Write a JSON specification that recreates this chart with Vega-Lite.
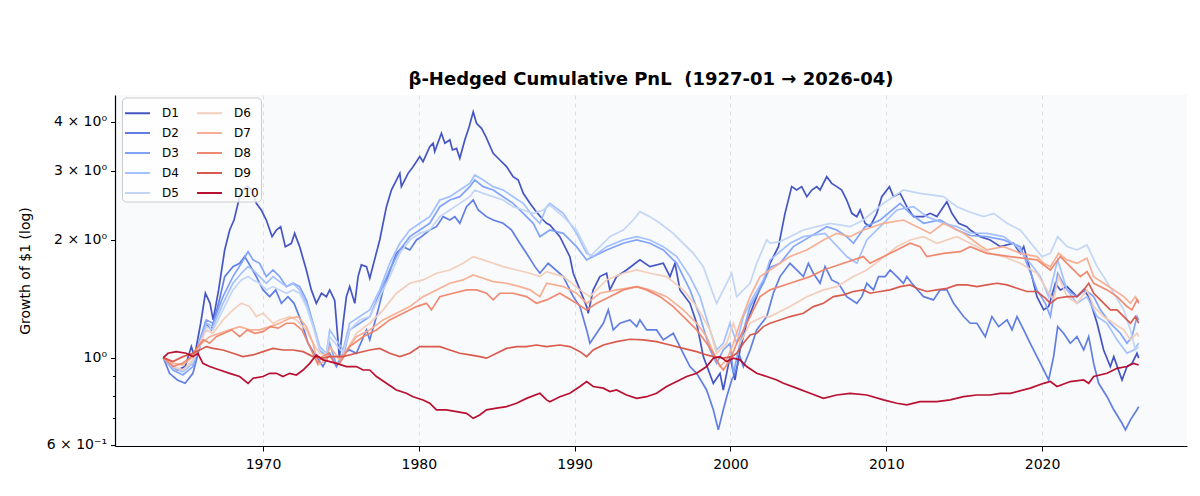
{
"$schema":"https://vega.github.io/schema/vega-lite/v6.json",
"autosize":{"type":"none"},
"width":1072,"height":351,
"padding":{"left":115,"top":95,"right":13,"bottom":50},
"background":"white",
"config":{"view":{"fill":"#f9fafc","stroke":null},"font":"DejaVu Sans"},
"title":{"text":"β-Hedged Cumulative PnL \u00a0(1927-01 → 2026-04)","fontSize":18,"fontWeight":"bold","font":"DejaVu Sans","color":"#000","anchor":"middle","offset":6},
"datasets":{"pts":[
{"s":"D1","x":1963.6,"y":1},{"s":"D1","x":1964.0,"y":0.967},{"s":"D1","x":1964.5,"y":0.93},{"s":"D1","x":1965.0,"y":0.949},{"s":"D1","x":1965.4,"y":1.067},{"s":"D1","x":1965.6,"y":1.006},{"s":"D1","x":1966.0,"y":1.224},{"s":"D1","x":1966.3,"y":1.46},{"s":"D1","x":1966.6,"y":1.376},{"s":"D1","x":1966.8,"y":1.248},{"s":"D1","x":1967.15,"y":1.489},{"s":"D1","x":1967.54,"y":1.883},{"s":"D1","x":1967.86,"y":2.117},{"s":"D1","x":1968.14,"y":2.245},{"s":"D1","x":1968.5,"y":2.575},{"s":"D1","x":1968.71,"y":2.678},{"s":"D1","x":1968.99,"y":2.731},{"s":"D1","x":1969.31,"y":2.678},{"s":"D1","x":1969.57,"y":2.476},{"s":"D1","x":1969.89,"y":2.381},{"s":"D1","x":1970.21,"y":2.245},{"s":"D1","x":1970.58,"y":2.036},{"s":"D1","x":1970.86,"y":2.117},{"s":"D1","x":1971.13,"y":2.159},{"s":"D1","x":1971.43,"y":1.92},{"s":"D1","x":1971.82,"y":1.958},{"s":"D1","x":1972.03,"y":2.076},{"s":"D1","x":1972.35,"y":1.92},{"s":"D1","x":1972.78,"y":1.674},{"s":"D1","x":1973.1,"y":1.489},{"s":"D1","x":1973.42,"y":1.376},{"s":"D1","x":1973.75,"y":1.46},{"s":"D1","x":1974.07,"y":1.431},{"s":"D1","x":1974.28,"y":1.489},{"s":"D1","x":1974.6,"y":1.4},{"s":"D1","x":1974.9,"y":1.0},{"s":"D1","x":1975.14,"y":1.224},{"s":"D1","x":1975.35,"y":1.431},{"s":"D1","x":1975.56,"y":1.518},{"s":"D1","x":1975.89,"y":1.376},{"s":"D1","x":1976.1,"y":1.61},{"s":"D1","x":1976.31,"y":1.724},{"s":"D1","x":1976.64,"y":1.707},{"s":"D1","x":1976.85,"y":1.595},{"s":"D1","x":1977.49,"y":1.997},{"s":"D1","x":1977.92,"y":2.428},{"s":"D1","x":1978.24,"y":2.678},{"s":"D1","x":1978.56,"y":2.84},{"s":"D1","x":1978.78,"y":2.953},{"s":"D1","x":1978.88,"y":2.731},{"s":"D1","x":1979.31,"y":2.953},{"s":"D1","x":1979.63,"y":3.072},{"s":"D1","x":1980.06,"y":3.258},{"s":"D1","x":1980.27,"y":3.163},{"s":"D1","x":1980.7,"y":3.455},{"s":"D1","x":1980.92,"y":3.524},{"s":"D1","x":1981.02,"y":3.355},{"s":"D1","x":1981.45,"y":3.737},{"s":"D1","x":1981.67,"y":3.524},{"s":"D1","x":1981.99,"y":3.593},{"s":"D1","x":1982.16,"y":3.388},{"s":"D1","x":1982.42,"y":3.42},{"s":"D1","x":1982.63,"y":3.226},{"s":"D1","x":1982.95,"y":3.593},{"s":"D1","x":1983.23,"y":3.886},{"s":"D1","x":1983.49,"y":4.24},{"s":"D1","x":1983.7,"y":3.963},{"s":"D1","x":1984.02,"y":3.848},{"s":"D1","x":1984.3,"y":3.665},{"s":"D1","x":1984.77,"y":3.322},{"s":"D1","x":1985.2,"y":3.194},{"s":"D1","x":1985.63,"y":3.072},{"s":"D1","x":1986.05,"y":2.896},{"s":"D1","x":1986.38,"y":2.84},{"s":"D1","x":1986.7,"y":2.626},{"s":"D1","x":1987.13,"y":2.476},{"s":"D1","x":1987.45,"y":2.381},{"s":"D1","x":1987.98,"y":2.245},{"s":"D1","x":1988.2,"y":2.202},{"s":"D1","x":1988.41,"y":2.18},{"s":"D1","x":1989.05,"y":2.036},{"s":"D1","x":1989.69,"y":1.811},{"s":"D1","x":1989.91,"y":1.642},{"s":"D1","x":1990.34,"y":1.489},{"s":"D1","x":1990.77,"y":1.35},{"s":"D1","x":1990.87,"y":1.298},{"s":"D1","x":1991.19,"y":1.489},{"s":"D1","x":1991.62,"y":1.61},{"s":"D1","x":1992.05,"y":1.642},{"s":"D1","x":1992.26,"y":1.489},{"s":"D1","x":1992.69,"y":1.61},{"s":"D1","x":1993.33,"y":1.674},{"s":"D1","x":1994.19,"y":1.776},{"s":"D1","x":1994.83,"y":1.707},{"s":"D1","x":1995.69,"y":1.741},{"s":"D1","x":1996.12,"y":1.61},{"s":"D1","x":1996.44,"y":1.741},{"s":"D1","x":1996.76,"y":1.489},{"s":"D1","x":1997.4,"y":1.376},{"s":"D1","x":1997.83,"y":1.224},{"s":"D1","x":1998.26,"y":1.006},{"s":"D1","x":1998.9,"y":0.86},{"s":"D1","x":1999.33,"y":0.912},{"s":"D1","x":1999.54,"y":0.827},{"s":"D1","x":1999.97,"y":1.006},{"s":"D1","x":2000.29,"y":0.877},{"s":"D1","x":2000.61,"y":1.046},{"s":"D1","x":2001.04,"y":1.224},{"s":"D1","x":2001.68,"y":1.431},{"s":"D1","x":2002.33,"y":1.642},{"s":"D1","x":2002.54,"y":1.741},{"s":"D1","x":2003.08,"y":1.92},{"s":"D1","x":2003.5,"y":2.335},{"s":"D1","x":2003.93,"y":2.731},{"s":"D1","x":2004.25,"y":2.678},{"s":"D1","x":2004.57,"y":2.731},{"s":"D1","x":2004.9,"y":2.575},{"s":"D1","x":2005.22,"y":2.678},{"s":"D1","x":2005.54,"y":2.731},{"s":"D1","x":2005.75,"y":2.678},{"s":"D1","x":2006.18,"y":2.896},{"s":"D1","x":2006.5,"y":2.785},{"s":"D1","x":2006.82,"y":2.731},{"s":"D1","x":2007.14,"y":2.678},{"s":"D1","x":2007.46,"y":2.525},{"s":"D1","x":2007.79,"y":2.335},{"s":"D1","x":2008.11,"y":2.29},{"s":"D1","x":2008.32,"y":2.381},{"s":"D1","x":2008.64,"y":2.202},{"s":"D1","x":2008.96,"y":2.159},{"s":"D1","x":2009.39,"y":2.335},{"s":"D1","x":2009.71,"y":2.575},{"s":"D1","x":2010.2,"y":2.731},{"s":"D1","x":2010.46,"y":2.575},{"s":"D1","x":2010.89,"y":2.626},{"s":"D1","x":2011.32,"y":2.428},{"s":"D1","x":2011.75,"y":2.29},{"s":"D1","x":2012.39,"y":2.29},{"s":"D1","x":2012.82,"y":2.335},{"s":"D1","x":2013.25,"y":2.29},{"s":"D1","x":2013.67,"y":2.428},{"s":"D1","x":2013.89,"y":2.5},{"s":"D1","x":2014.21,"y":2.335},{"s":"D1","x":2014.64,"y":2.202},{"s":"D1","x":2015.17,"y":2.159},{"s":"D1","x":2015.39,"y":2.117},{"s":"D1","x":2016.03,"y":2.036},{"s":"D1","x":2016.67,"y":1.997},{"s":"D1","x":2017.32,"y":1.92},{"s":"D1","x":2018.17,"y":1.958},{"s":"D1","x":2018.6,"y":1.846},{"s":"D1","x":2018.82,"y":1.92},{"s":"D1","x":2019.35,"y":1.61},{"s":"D1","x":2019.67,"y":1.431},{"s":"D1","x":2020.1,"y":1.324},{"s":"D1","x":2020.42,"y":1.35},{"s":"D1","x":2020.85,"y":1.548},{"s":"D1","x":2021.17,"y":1.489},{"s":"D1","x":2021.6,"y":1.518},{"s":"D1","x":2022.24,"y":1.431},{"s":"D1","x":2022.67,"y":1.489},{"s":"D1","x":2023.0,"y":1.431},{"s":"D1","x":2023.53,"y":1.224},{"s":"D1","x":2023.95,"y":1.046},{"s":"D1","x":2024.38,"y":0.949},{"s":"D1","x":2024.6,"y":1.006},{"s":"D1","x":2025.13,"y":0.877},{"s":"D1","x":2025.45,"y":0.949},{"s":"D1","x":2025.77,"y":0.967},{"s":"D1","x":2026.09,"y":1.026},{"s":"D1","x":2026.2,"y":0.997},
{"s":"D2","x":1963.6,"y":1},{"s":"D2","x":1964.0,"y":0.912},{"s":"D2","x":1964.5,"y":0.877},{"s":"D2","x":1965.0,"y":0.86},{"s":"D2","x":1965.5,"y":0.912},{"s":"D2","x":1966.0,"y":1.088},{"s":"D2","x":1966.29,"y":1.224},{"s":"D2","x":1966.68,"y":1.177},{"s":"D2","x":1967.15,"y":1.376},{"s":"D2","x":1967.54,"y":1.61},{"s":"D2","x":1968.07,"y":1.707},{"s":"D2","x":1968.5,"y":1.741},{"s":"D2","x":1968.82,"y":1.811},{"s":"D2","x":1969.21,"y":1.707},{"s":"D2","x":1969.57,"y":1.61},{"s":"D2","x":1970.0,"y":1.489},{"s":"D2","x":1970.43,"y":1.431},{"s":"D2","x":1970.81,"y":1.489},{"s":"D2","x":1971.18,"y":1.376},{"s":"D2","x":1971.6,"y":1.431},{"s":"D2","x":1971.99,"y":1.376},{"s":"D2","x":1972.5,"y":1.224},{"s":"D2","x":1972.89,"y":1.088},{"s":"D2","x":1973.42,"y":1.006},{"s":"D2","x":1973.85,"y":0.949},{"s":"D2","x":1974.28,"y":1.026},{"s":"D2","x":1974.71,"y":0.949},{"s":"D2","x":1975.14,"y":1.026},{"s":"D2","x":1975.56,"y":1.046},{"s":"D2","x":1975.99,"y":1.026},{"s":"D2","x":1976.64,"y":1.177},{"s":"D2","x":1976.85,"y":1.11},{"s":"D2","x":1977.28,"y":1.273},{"s":"D2","x":1977.71,"y":1.489},{"s":"D2","x":1978.24,"y":1.707},{"s":"D2","x":1978.56,"y":1.846},{"s":"D2","x":1978.99,"y":1.92},{"s":"D2","x":1979.42,"y":1.883},{"s":"D2","x":1979.85,"y":1.997},{"s":"D2","x":1980.17,"y":2.036},{"s":"D2","x":1980.7,"y":2.117},{"s":"D2","x":1981.13,"y":2.159},{"s":"D2","x":1981.56,"y":2.29},{"s":"D2","x":1981.99,"y":2.245},{"s":"D2","x":1982.31,"y":2.29},{"s":"D2","x":1982.63,"y":2.202},{"s":"D2","x":1983.06,"y":2.428},{"s":"D2","x":1983.49,"y":2.525},{"s":"D2","x":1983.81,"y":2.381},{"s":"D2","x":1984.34,"y":2.29},{"s":"D2","x":1984.77,"y":2.245},{"s":"D2","x":1985.41,"y":2.202},{"s":"D2","x":1985.95,"y":2.117},{"s":"D2","x":1986.48,"y":1.958},{"s":"D2","x":1986.91,"y":1.846},{"s":"D2","x":1987.45,"y":1.707},{"s":"D2","x":1987.77,"y":1.642},{"s":"D2","x":1988.3,"y":1.741},{"s":"D2","x":1989.27,"y":1.61},{"s":"D2","x":1989.91,"y":1.431},{"s":"D2","x":1990.34,"y":1.35},{"s":"D2","x":1990.77,"y":1.177},{"s":"D2","x":1990.98,"y":1.088},{"s":"D2","x":1991.41,"y":1.154},{"s":"D2","x":1991.84,"y":1.224},{"s":"D2","x":1992.16,"y":1.324},{"s":"D2","x":1992.48,"y":1.177},{"s":"D2","x":1992.91,"y":1.224},{"s":"D2","x":1993.55,"y":1.248},{"s":"D2","x":1993.98,"y":1.2},{"s":"D2","x":1994.19,"y":1.248},{"s":"D2","x":1994.62,"y":1.177},{"s":"D2","x":1995.26,"y":1.177},{"s":"D2","x":1995.69,"y":1.11},{"s":"D2","x":1996.33,"y":1.154},{"s":"D2","x":1996.97,"y":1.026},{"s":"D2","x":1997.4,"y":0.949},{"s":"D2","x":1997.83,"y":0.912},{"s":"D2","x":1998.47,"y":0.827},{"s":"D2","x":1998.9,"y":0.736},{"s":"D2","x":1999.22,"y":0.654},{"s":"D2","x":1999.54,"y":0.736},{"s":"D2","x":1999.76,"y":0.795},{"s":"D2","x":2000.08,"y":0.877},{"s":"D2","x":2000.29,"y":0.912},{"s":"D2","x":2000.61,"y":1.006},{"s":"D2","x":2000.83,"y":0.949},{"s":"D2","x":2001.26,"y":1.046},{"s":"D2","x":2001.68,"y":1.177},{"s":"D2","x":2002.33,"y":1.273},{"s":"D2","x":2002.75,"y":1.46},{"s":"D2","x":2003.18,"y":1.61},{"s":"D2","x":2003.82,"y":1.741},{"s":"D2","x":2004.25,"y":1.674},{"s":"D2","x":2004.68,"y":1.61},{"s":"D2","x":2005.0,"y":1.741},{"s":"D2","x":2005.32,"y":1.642},{"s":"D2","x":2005.75,"y":1.548},{"s":"D2","x":2006.07,"y":1.707},{"s":"D2","x":2006.5,"y":1.579},{"s":"D2","x":2006.93,"y":1.548},{"s":"D2","x":2007.46,"y":1.431},{"s":"D2","x":2008.11,"y":1.376},{"s":"D2","x":2008.43,"y":1.431},{"s":"D2","x":2008.75,"y":1.548},{"s":"D2","x":2009.18,"y":1.489},{"s":"D2","x":2009.5,"y":1.61},{"s":"D2","x":2009.93,"y":1.61},{"s":"D2","x":2010.25,"y":1.674},{"s":"D2","x":2010.68,"y":1.61},{"s":"D2","x":2011.1,"y":1.548},{"s":"D2","x":2011.32,"y":1.61},{"s":"D2","x":2011.64,"y":1.548},{"s":"D2","x":2012.39,"y":1.431},{"s":"D2","x":2013.03,"y":1.404},{"s":"D2","x":2013.46,"y":1.489},{"s":"D2","x":2013.89,"y":1.489},{"s":"D2","x":2014.32,"y":1.376},{"s":"D2","x":2014.96,"y":1.273},{"s":"D2","x":2015.39,"y":1.224},{"s":"D2","x":2015.82,"y":1.224},{"s":"D2","x":2016.35,"y":1.131},{"s":"D2","x":2016.78,"y":1.273},{"s":"D2","x":2017.21,"y":1.2},{"s":"D2","x":2017.75,"y":1.248},{"s":"D2","x":2018.07,"y":1.177},{"s":"D2","x":2018.39,"y":1.273},{"s":"D2","x":2018.82,"y":1.177},{"s":"D2","x":2019.24,"y":1.088},{"s":"D2","x":2019.67,"y":1.006},{"s":"D2","x":2019.89,"y":0.967},{"s":"D2","x":2020.42,"y":0.877},{"s":"D2","x":2020.74,"y":1.006},{"s":"D2","x":2021.0,"y":1.2},{"s":"D2","x":2021.38,"y":1.154},{"s":"D2","x":2021.81,"y":1.088},{"s":"D2","x":2022.24,"y":1.131},{"s":"D2","x":2022.67,"y":1.046},{"s":"D2","x":2022.99,"y":1.131},{"s":"D2","x":2023.31,"y":0.967},{"s":"D2","x":2023.63,"y":0.86},{"s":"D2","x":2024.17,"y":0.795},{"s":"D2","x":2024.6,"y":0.736},{"s":"D2","x":2025.13,"y":0.68},{"s":"D2","x":2025.35,"y":0.654},{"s":"D2","x":2025.67,"y":0.694},{"s":"D2","x":2026.09,"y":0.736},{"s":"D2","x":2026.2,"y":0.75},
{"s":"D3","x":1963.6,"y":1},{"s":"D3","x":1964.22,"y":0.93},{"s":"D3","x":1964.86,"y":0.903},{"s":"D3","x":1965.5,"y":0.949},{"s":"D3","x":1965.93,"y":1.11},{"s":"D3","x":1966.36,"y":1.248},{"s":"D3","x":1966.79,"y":1.224},{"s":"D3","x":1967.43,"y":1.431},{"s":"D3","x":1968.07,"y":1.61},{"s":"D3","x":1968.61,"y":1.741},{"s":"D3","x":1969.04,"y":1.865},{"s":"D3","x":1969.36,"y":1.776},{"s":"D3","x":1969.78,"y":1.741},{"s":"D3","x":1970.21,"y":1.61},{"s":"D3","x":1970.64,"y":1.674},{"s":"D3","x":1971.07,"y":1.61},{"s":"D3","x":1971.5,"y":1.518},{"s":"D3","x":1971.93,"y":1.548},{"s":"D3","x":1972.35,"y":1.518},{"s":"D3","x":1972.78,"y":1.404},{"s":"D3","x":1973.21,"y":1.224},{"s":"D3","x":1973.64,"y":1.046},{"s":"D3","x":1974.07,"y":1.006},{"s":"D3","x":1974.28,"y":1.088},{"s":"D3","x":1974.7,"y":0.96},{"s":"D3","x":1975.14,"y":1.006},{"s":"D3","x":1975.56,"y":1.177},{"s":"D3","x":1976.21,"y":1.224},{"s":"D3","x":1976.85,"y":1.273},{"s":"D3","x":1977.49,"y":1.46},{"s":"D3","x":1978.13,"y":1.674},{"s":"D3","x":1978.78,"y":1.883},{"s":"D3","x":1979.42,"y":2.036},{"s":"D3","x":1980.06,"y":2.117},{"s":"D3","x":1980.7,"y":2.202},{"s":"D3","x":1981.35,"y":2.428},{"s":"D3","x":1981.99,"y":2.525},{"s":"D3","x":1982.63,"y":2.575},{"s":"D3","x":1983.27,"y":2.731},{"s":"D3","x":1983.59,"y":2.84},{"s":"D3","x":1984.13,"y":2.731},{"s":"D3","x":1984.77,"y":2.678},{"s":"D3","x":1985.41,"y":2.575},{"s":"D3","x":1986.05,"y":2.476},{"s":"D3","x":1986.7,"y":2.335},{"s":"D3","x":1987.34,"y":2.202},{"s":"D3","x":1987.77,"y":2.036},{"s":"D3","x":1988.41,"y":2.117},{"s":"D3","x":1989.27,"y":2.076},{"s":"D3","x":1990.12,"y":1.92},{"s":"D3","x":1990.77,"y":1.776},{"s":"D3","x":1991.19,"y":1.811},{"s":"D3","x":1992.05,"y":1.883},{"s":"D3","x":1993.12,"y":1.958},{"s":"D3","x":1993.98,"y":1.997},{"s":"D3","x":1994.83,"y":1.958},{"s":"D3","x":1995.69,"y":1.883},{"s":"D3","x":1996.55,"y":1.741},{"s":"D3","x":1997.4,"y":1.489},{"s":"D3","x":1998.04,"y":1.273},{"s":"D3","x":1998.69,"y":1.046},{"s":"D3","x":1999.11,"y":0.967},{"s":"D3","x":1999.54,"y":1.046},{"s":"D3","x":1999.97,"y":1.088},{"s":"D3","x":2000.19,"y":0.912},{"s":"D3","x":2000.61,"y":1.088},{"s":"D3","x":2001.26,"y":1.35},{"s":"D3","x":2002.11,"y":1.548},{"s":"D3","x":2002.54,"y":1.7},{"s":"D3","x":2003.18,"y":1.741},{"s":"D3","x":2004.04,"y":1.92},{"s":"D3","x":2005.11,"y":2.036},{"s":"D3","x":2006.18,"y":2.159},{"s":"D3","x":2006.82,"y":2.117},{"s":"D3","x":2007.46,"y":2.036},{"s":"D3","x":2007.89,"y":1.958},{"s":"D3","x":2008.64,"y":2.159},{"s":"D3","x":2009.61,"y":2.245},{"s":"D3","x":2010.89,"y":2.476},{"s":"D3","x":2011.53,"y":2.335},{"s":"D3","x":2012.39,"y":2.202},{"s":"D3","x":2013.46,"y":2.245},{"s":"D3","x":2014.53,"y":2.117},{"s":"D3","x":2015.39,"y":2.05},{"s":"D3","x":2016.46,"y":2.036},{"s":"D3","x":2017.53,"y":1.997},{"s":"D3","x":2018.6,"y":1.92},{"s":"D3","x":2019.35,"y":1.61},{"s":"D3","x":2019.67,"y":1.489},{"s":"D3","x":2020.21,"y":1.376},{"s":"D3","x":2020.53,"y":1.273},{"s":"D3","x":2021.0,"y":1.642},{"s":"D3","x":2021.6,"y":1.489},{"s":"D3","x":2022.24,"y":1.431},{"s":"D3","x":2022.78,"y":1.489},{"s":"D3","x":2023.31,"y":1.431},{"s":"D3","x":2023.74,"y":1.324},{"s":"D3","x":2024.38,"y":1.224},{"s":"D3","x":2025.02,"y":1.154},{"s":"D3","x":2025.45,"y":1.088},{"s":"D3","x":2025.77,"y":1.131},{"s":"D3","x":2026.09,"y":1.273},{"s":"D3","x":2026.2,"y":1.248},
{"s":"D4","x":1963.6,"y":1},{"s":"D4","x":1964.22,"y":0.94},{"s":"D4","x":1964.86,"y":0.92},{"s":"D4","x":1965.5,"y":0.967},{"s":"D4","x":1965.93,"y":1.088},{"s":"D4","x":1966.36,"y":1.224},{"s":"D4","x":1966.79,"y":1.2},{"s":"D4","x":1967.43,"y":1.376},{"s":"D4","x":1968.07,"y":1.548},{"s":"D4","x":1968.61,"y":1.642},{"s":"D4","x":1969.04,"y":1.707},{"s":"D4","x":1969.36,"y":1.674},{"s":"D4","x":1969.78,"y":1.61},{"s":"D4","x":1970.21,"y":1.548},{"s":"D4","x":1970.64,"y":1.61},{"s":"D4","x":1971.07,"y":1.563},{"s":"D4","x":1971.5,"y":1.518},{"s":"D4","x":1971.93,"y":1.548},{"s":"D4","x":1972.35,"y":1.489},{"s":"D4","x":1972.78,"y":1.376},{"s":"D4","x":1973.21,"y":1.224},{"s":"D4","x":1973.64,"y":1.067},{"s":"D4","x":1974.07,"y":1.026},{"s":"D4","x":1974.28,"y":1.177},{"s":"D4","x":1975.14,"y":1.046},{"s":"D4","x":1975.56,"y":1.224},{"s":"D4","x":1976.21,"y":1.273},{"s":"D4","x":1976.85,"y":1.324},{"s":"D4","x":1977.49,"y":1.489},{"s":"D4","x":1978.13,"y":1.741},{"s":"D4","x":1978.78,"y":1.958},{"s":"D4","x":1979.42,"y":2.117},{"s":"D4","x":1980.06,"y":2.202},{"s":"D4","x":1980.7,"y":2.29},{"s":"D4","x":1981.35,"y":2.525},{"s":"D4","x":1981.99,"y":2.575},{"s":"D4","x":1982.63,"y":2.678},{"s":"D4","x":1983.27,"y":2.785},{"s":"D4","x":1983.59,"y":2.925},{"s":"D4","x":1984.13,"y":2.84},{"s":"D4","x":1984.77,"y":2.731},{"s":"D4","x":1985.41,"y":2.678},{"s":"D4","x":1986.05,"y":2.575},{"s":"D4","x":1986.7,"y":2.476},{"s":"D4","x":1987.34,"y":2.29},{"s":"D4","x":1987.77,"y":2.2},{"s":"D4","x":1988.2,"y":2.428},{"s":"D4","x":1988.41,"y":2.476},{"s":"D4","x":1989.27,"y":2.335},{"s":"D4","x":1990.12,"y":2.076},{"s":"D4","x":1990.77,"y":1.846},{"s":"D4","x":1991.19,"y":1.811},{"s":"D4","x":1992.05,"y":1.92},{"s":"D4","x":1993.12,"y":1.997},{"s":"D4","x":1993.98,"y":2.036},{"s":"D4","x":1994.83,"y":1.997},{"s":"D4","x":1995.69,"y":1.92},{"s":"D4","x":1996.55,"y":1.811},{"s":"D4","x":1997.4,"y":1.61},{"s":"D4","x":1998.04,"y":1.431},{"s":"D4","x":1998.69,"y":1.177},{"s":"D4","x":1999.11,"y":1.046},{"s":"D4","x":1999.54,"y":1.088},{"s":"D4","x":1999.97,"y":1.224},{"s":"D4","x":2000.4,"y":1.088},{"s":"D4","x":2000.83,"y":1.273},{"s":"D4","x":2001.47,"y":1.431},{"s":"D4","x":2002.11,"y":1.579},{"s":"D4","x":2002.54,"y":1.776},{"s":"D4","x":2003.82,"y":1.958},{"s":"D4","x":2004.68,"y":2.036},{"s":"D4","x":2006.07,"y":2.076},{"s":"D4","x":2007.46,"y":1.811},{"s":"D4","x":2008.11,"y":1.741},{"s":"D4","x":2008.75,"y":1.997},{"s":"D4","x":2009.82,"y":2.202},{"s":"D4","x":2010.68,"y":2.381},{"s":"D4","x":2011.75,"y":2.428},{"s":"D4","x":2012.6,"y":2.29},{"s":"D4","x":2013.67,"y":2.202},{"s":"D4","x":2014.53,"y":2.159},{"s":"D4","x":2015.39,"y":2.08},{"s":"D4","x":2016.46,"y":2.076},{"s":"D4","x":2017.53,"y":2.036},{"s":"D4","x":2018.39,"y":1.92},{"s":"D4","x":2019.24,"y":1.741},{"s":"D4","x":2019.89,"y":1.61},{"s":"D4","x":2020.42,"y":1.431},{"s":"D4","x":2021.0,"y":1.776},{"s":"D4","x":2021.6,"y":1.489},{"s":"D4","x":2022.24,"y":1.376},{"s":"D4","x":2022.88,"y":1.431},{"s":"D4","x":2023.53,"y":1.273},{"s":"D4","x":2024.17,"y":1.224},{"s":"D4","x":2024.81,"y":1.11},{"s":"D4","x":2025.45,"y":1.026},{"s":"D4","x":2025.88,"y":1.046},{"s":"D4","x":2026.2,"y":1.088},
{"s":"D5","x":1963.6,"y":1},{"s":"D5","x":1964.22,"y":0.949},{"s":"D5","x":1964.86,"y":0.93},{"s":"D5","x":1965.5,"y":0.977},{"s":"D5","x":1965.93,"y":1.067},{"s":"D5","x":1966.36,"y":1.2},{"s":"D5","x":1966.79,"y":1.177},{"s":"D5","x":1967.43,"y":1.324},{"s":"D5","x":1968.07,"y":1.489},{"s":"D5","x":1968.61,"y":1.579},{"s":"D5","x":1969.04,"y":1.61},{"s":"D5","x":1969.36,"y":1.579},{"s":"D5","x":1969.78,"y":1.548},{"s":"D5","x":1970.21,"y":1.489},{"s":"D5","x":1970.64,"y":1.518},{"s":"D5","x":1971.07,"y":1.489},{"s":"D5","x":1971.5,"y":1.46},{"s":"D5","x":1971.93,"y":1.489},{"s":"D5","x":1972.35,"y":1.46},{"s":"D5","x":1972.78,"y":1.35},{"s":"D5","x":1973.21,"y":1.2},{"s":"D5","x":1973.64,"y":1.046},{"s":"D5","x":1974.07,"y":1.026},{"s":"D5","x":1974.28,"y":1.131},{"s":"D5","x":1975.14,"y":1.026},{"s":"D5","x":1975.56,"y":1.177},{"s":"D5","x":1976.21,"y":1.248},{"s":"D5","x":1976.85,"y":1.273},{"s":"D5","x":1977.49,"y":1.431},{"s":"D5","x":1978.13,"y":1.61},{"s":"D5","x":1978.78,"y":1.846},{"s":"D5","x":1979.42,"y":1.997},{"s":"D5","x":1980.06,"y":2.076},{"s":"D5","x":1980.7,"y":2.117},{"s":"D5","x":1981.35,"y":2.29},{"s":"D5","x":1981.99,"y":2.381},{"s":"D5","x":1982.63,"y":2.476},{"s":"D5","x":1983.27,"y":2.575},{"s":"D5","x":1983.59,"y":2.678},{"s":"D5","x":1984.13,"y":2.626},{"s":"D5","x":1984.77,"y":2.575},{"s":"D5","x":1985.41,"y":2.525},{"s":"D5","x":1986.05,"y":2.428},{"s":"D5","x":1986.7,"y":2.381},{"s":"D5","x":1987.34,"y":2.335},{"s":"D5","x":1987.98,"y":2.381},{"s":"D5","x":1988.41,"y":2.45},{"s":"D5","x":1989.27,"y":2.29},{"s":"D5","x":1990.12,"y":2.117},{"s":"D5","x":1990.77,"y":1.883},{"s":"D5","x":1990.98,"y":1.811},{"s":"D5","x":1991.62,"y":1.92},{"s":"D5","x":1992.26,"y":2.036},{"s":"D5","x":1993.12,"y":2.117},{"s":"D5","x":1993.76,"y":2.245},{"s":"D5","x":1994.19,"y":2.358},{"s":"D5","x":1994.83,"y":2.29},{"s":"D5","x":1995.48,"y":2.202},{"s":"D5","x":1996.33,"y":2.076},{"s":"D5","x":1996.97,"y":1.958},{"s":"D5","x":1997.62,"y":1.846},{"s":"D5","x":1998.26,"y":1.707},{"s":"D5","x":1998.79,"y":1.489},{"s":"D5","x":1999.11,"y":1.376},{"s":"D5","x":1999.54,"y":1.489},{"s":"D5","x":2000.08,"y":1.642},{"s":"D5","x":2000.4,"y":1.431},{"s":"D5","x":2001.26,"y":1.548},{"s":"D5","x":2001.68,"y":1.741},{"s":"D5","x":2002.33,"y":1.997},{"s":"D5","x":2002.54,"y":1.96},{"s":"D5","x":2003.18,"y":1.978},{"s":"D5","x":2003.82,"y":2.036},{"s":"D5","x":2004.68,"y":2.117},{"s":"D5","x":2006.39,"y":2.202},{"s":"D5","x":2007.68,"y":2.159},{"s":"D5","x":2008.53,"y":2.245},{"s":"D5","x":2009.82,"y":2.476},{"s":"D5","x":2011.1,"y":2.678},{"s":"D5","x":2012.17,"y":2.626},{"s":"D5","x":2013.67,"y":2.575},{"s":"D5","x":2014.53,"y":2.428},{"s":"D5","x":2015.39,"y":2.35},{"s":"D5","x":2016.25,"y":2.29},{"s":"D5","x":2016.89,"y":2.335},{"s":"D5","x":2017.75,"y":2.202},{"s":"D5","x":2018.6,"y":2.117},{"s":"D5","x":2019.46,"y":1.92},{"s":"D5","x":2020.0,"y":1.811},{"s":"D5","x":2020.53,"y":1.846},{"s":"D5","x":2021.0,"y":2.036},{"s":"D5","x":2021.6,"y":1.92},{"s":"D5","x":2022.24,"y":1.883},{"s":"D5","x":2022.88,"y":1.939},{"s":"D5","x":2023.53,"y":1.707},{"s":"D5","x":2023.95,"y":1.61},{"s":"D5","x":2024.6,"y":1.46},{"s":"D5","x":2025.24,"y":1.324},{"s":"D5","x":2025.67,"y":1.177},{"s":"D5","x":2025.99,"y":1.046},{"s":"D5","x":2026.2,"y":1.067},
{"s":"D6","x":1963.6,"y":1},{"s":"D6","x":1964.22,"y":0.949},{"s":"D6","x":1964.86,"y":0.93},{"s":"D6","x":1965.5,"y":0.987},{"s":"D6","x":1965.93,"y":1.088},{"s":"D6","x":1966.36,"y":1.177},{"s":"D6","x":1966.79,"y":1.154},{"s":"D6","x":1967.43,"y":1.248},{"s":"D6","x":1968.07,"y":1.324},{"s":"D6","x":1968.61,"y":1.376},{"s":"D6","x":1969.14,"y":1.35},{"s":"D6","x":1969.57,"y":1.273},{"s":"D6","x":1970.0,"y":1.298},{"s":"D6","x":1970.64,"y":1.224},{"s":"D6","x":1971.07,"y":1.248},{"s":"D6","x":1971.71,"y":1.273},{"s":"D6","x":1972.14,"y":1.248},{"s":"D6","x":1972.78,"y":1.177},{"s":"D6","x":1973.21,"y":1.088},{"s":"D6","x":1973.64,"y":1.026},{"s":"D6","x":1974.28,"y":1.006},{"s":"D6","x":1975.14,"y":1.006},{"s":"D6","x":1975.99,"y":1.154},{"s":"D6","x":1976.85,"y":1.224},{"s":"D6","x":1977.71,"y":1.324},{"s":"D6","x":1978.56,"y":1.46},{"s":"D6","x":1979.42,"y":1.548},{"s":"D6","x":1980.27,"y":1.579},{"s":"D6","x":1981.13,"y":1.642},{"s":"D6","x":1981.99,"y":1.674},{"s":"D6","x":1982.84,"y":1.741},{"s":"D6","x":1983.49,"y":1.811},{"s":"D6","x":1984.13,"y":1.776},{"s":"D6","x":1984.77,"y":1.741},{"s":"D6","x":1985.41,"y":1.707},{"s":"D6","x":1986.27,"y":1.674},{"s":"D6","x":1987.13,"y":1.642},{"s":"D6","x":1987.77,"y":1.61},{"s":"D6","x":1988.2,"y":1.658},{"s":"D6","x":1989.27,"y":1.61},{"s":"D6","x":1990.34,"y":1.489},{"s":"D6","x":1990.98,"y":1.431},{"s":"D6","x":1992.05,"y":1.579},{"s":"D6","x":1993.12,"y":1.642},{"s":"D6","x":1993.98,"y":1.674},{"s":"D6","x":1994.83,"y":1.642},{"s":"D6","x":1995.9,"y":1.61},{"s":"D6","x":1996.97,"y":1.489},{"s":"D6","x":1997.83,"y":1.35},{"s":"D6","x":1998.69,"y":1.177},{"s":"D6","x":1999.11,"y":1.026},{"s":"D6","x":1999.76,"y":1.088},{"s":"D6","x":2000.19,"y":1.224},{"s":"D6","x":2000.61,"y":1.088},{"s":"D6","x":2001.26,"y":1.224},{"s":"D6","x":2002.11,"y":1.273},{"s":"D6","x":2002.54,"y":1.273},{"s":"D6","x":2003.82,"y":1.35},{"s":"D6","x":2004.9,"y":1.431},{"s":"D6","x":2005.97,"y":1.489},{"s":"D6","x":2006.82,"y":1.518},{"s":"D6","x":2007.89,"y":1.61},{"s":"D6","x":2008.75,"y":1.674},{"s":"D6","x":2009.61,"y":1.776},{"s":"D6","x":2010.68,"y":1.92},{"s":"D6","x":2011.53,"y":1.997},{"s":"D6","x":2012.39,"y":2.036},{"s":"D6","x":2013.25,"y":1.958},{"s":"D6","x":2014.53,"y":2.036},{"s":"D6","x":2015.39,"y":1.958},{"s":"D6","x":2016.67,"y":1.846},{"s":"D6","x":2017.53,"y":1.811},{"s":"D6","x":2018.6,"y":1.741},{"s":"D6","x":2019.67,"y":1.642},{"s":"D6","x":2020.31,"y":1.489},{"s":"D6","x":2020.74,"y":1.404},{"s":"D6","x":2021.06,"y":1.61},{"s":"D6","x":2021.6,"y":1.431},{"s":"D6","x":2022.24,"y":1.376},{"s":"D6","x":2022.88,"y":1.489},{"s":"D6","x":2023.31,"y":1.35},{"s":"D6","x":2023.95,"y":1.273},{"s":"D6","x":2024.6,"y":1.224},{"s":"D6","x":2025.24,"y":1.177},{"s":"D6","x":2025.67,"y":1.11},{"s":"D6","x":2026.09,"y":1.154},{"s":"D6","x":2026.2,"y":1.131},
{"s":"D7","x":1963.6,"y":1},{"s":"D7","x":1964.22,"y":0.967},{"s":"D7","x":1964.86,"y":0.958},{"s":"D7","x":1965.5,"y":1.006},{"s":"D7","x":1965.93,"y":1.077},{"s":"D7","x":1966.57,"y":1.131},{"s":"D7","x":1967.22,"y":1.154},{"s":"D7","x":1967.86,"y":1.177},{"s":"D7","x":1968.5,"y":1.2},{"s":"D7","x":1969.14,"y":1.177},{"s":"D7","x":1969.78,"y":1.177},{"s":"D7","x":1970.43,"y":1.2},{"s":"D7","x":1971.07,"y":1.224},{"s":"D7","x":1971.71,"y":1.26},{"s":"D7","x":1972.25,"y":1.273},{"s":"D7","x":1972.78,"y":1.2},{"s":"D7","x":1973.21,"y":1.088},{"s":"D7","x":1973.53,"y":0.958},{"s":"D7","x":1974.07,"y":0.987},{"s":"D7","x":1974.28,"y":1.067},{"s":"D7","x":1974.92,"y":0.987},{"s":"D7","x":1975.99,"y":1.131},{"s":"D7","x":1976.85,"y":1.177},{"s":"D7","x":1977.71,"y":1.248},{"s":"D7","x":1978.56,"y":1.298},{"s":"D7","x":1979.42,"y":1.35},{"s":"D7","x":1980.27,"y":1.431},{"s":"D7","x":1981.13,"y":1.489},{"s":"D7","x":1981.99,"y":1.548},{"s":"D7","x":1982.84,"y":1.579},{"s":"D7","x":1983.49,"y":1.626},{"s":"D7","x":1984.13,"y":1.595},{"s":"D7","x":1984.77,"y":1.563},{"s":"D7","x":1985.63,"y":1.548},{"s":"D7","x":1986.48,"y":1.518},{"s":"D7","x":1987.13,"y":1.489},{"s":"D7","x":1987.77,"y":1.431},{"s":"D7","x":1988.2,"y":1.548},{"s":"D7","x":1989.27,"y":1.518},{"s":"D7","x":1990.12,"y":1.46},{"s":"D7","x":1990.77,"y":1.376},{"s":"D7","x":1991.62,"y":1.46},{"s":"D7","x":1992.69,"y":1.489},{"s":"D7","x":1993.98,"y":1.518},{"s":"D7","x":1994.83,"y":1.489},{"s":"D7","x":1995.9,"y":1.431},{"s":"D7","x":1996.97,"y":1.324},{"s":"D7","x":1997.83,"y":1.224},{"s":"D7","x":1998.47,"y":1.131},{"s":"D7","x":1999.01,"y":1.006},{"s":"D7","x":1999.33,"y":0.949},{"s":"D7","x":1999.76,"y":0.987},{"s":"D7","x":2000.19,"y":1.088},{"s":"D7","x":2000.61,"y":1.224},{"s":"D7","x":2001.26,"y":1.431},{"s":"D7","x":2001.9,"y":1.61},{"s":"D7","x":2002.54,"y":1.674},{"s":"D7","x":2003.82,"y":1.811},{"s":"D7","x":2004.9,"y":1.883},{"s":"D7","x":2005.97,"y":1.997},{"s":"D7","x":2006.82,"y":2.076},{"s":"D7","x":2007.68,"y":2.036},{"s":"D7","x":2008.53,"y":2.117},{"s":"D7","x":2009.82,"y":2.202},{"s":"D7","x":2011.1,"y":2.245},{"s":"D7","x":2011.96,"y":2.159},{"s":"D7","x":2012.82,"y":2.076},{"s":"D7","x":2013.67,"y":2.202},{"s":"D7","x":2014.96,"y":2.076},{"s":"D7","x":2015.81,"y":1.958},{"s":"D7","x":2016.46,"y":1.883},{"s":"D7","x":2017.53,"y":1.92},{"s":"D7","x":2018.6,"y":1.846},{"s":"D7","x":2019.67,"y":1.811},{"s":"D7","x":2020.1,"y":1.741},{"s":"D7","x":2020.53,"y":1.707},{"s":"D7","x":2021.06,"y":1.846},{"s":"D7","x":2021.6,"y":1.776},{"s":"D7","x":2022.24,"y":1.741},{"s":"D7","x":2022.88,"y":1.793},{"s":"D7","x":2023.31,"y":1.61},{"s":"D7","x":2023.95,"y":1.548},{"s":"D7","x":2024.6,"y":1.489},{"s":"D7","x":2025.24,"y":1.431},{"s":"D7","x":2025.67,"y":1.376},{"s":"D7","x":2025.99,"y":1.431},{"s":"D7","x":2026.2,"y":1.39},
{"s":"D8","x":1963.6,"y":1},{"s":"D8","x":1964.22,"y":0.949},{"s":"D8","x":1964.82,"y":0.967},{"s":"D8","x":1965.29,"y":0.997},{"s":"D8","x":1965.82,"y":1.067},{"s":"D8","x":1966.19,"y":1.11},{"s":"D8","x":1966.57,"y":1.088},{"s":"D8","x":1967.0,"y":1.131},{"s":"D8","x":1967.49,"y":1.154},{"s":"D8","x":1967.99,"y":1.177},{"s":"D8","x":1968.5,"y":1.131},{"s":"D8","x":1968.99,"y":1.177},{"s":"D8","x":1969.48,"y":1.154},{"s":"D8","x":1970.0,"y":1.165},{"s":"D8","x":1970.49,"y":1.2},{"s":"D8","x":1970.98,"y":1.189},{"s":"D8","x":1971.5,"y":1.224},{"s":"D8","x":1971.99,"y":1.224},{"s":"D8","x":1972.5,"y":1.177},{"s":"D8","x":1973.0,"y":1.067},{"s":"D8","x":1973.49,"y":0.967},{"s":"D8","x":1973.79,"y":1.006},{"s":"D8","x":1974.19,"y":1.026},{"s":"D8","x":1974.6,"y":0.967},{"s":"D8","x":1974.92,"y":0.967},{"s":"D8","x":1975.56,"y":1.067},{"s":"D8","x":1976.42,"y":1.131},{"s":"D8","x":1977.28,"y":1.177},{"s":"D8","x":1978.13,"y":1.248},{"s":"D8","x":1978.99,"y":1.298},{"s":"D8","x":1979.85,"y":1.35},{"s":"D8","x":1980.49,"y":1.376},{"s":"D8","x":1980.81,"y":1.324},{"s":"D8","x":1981.35,"y":1.431},{"s":"D8","x":1982.2,"y":1.46},{"s":"D8","x":1983.06,"y":1.489},{"s":"D8","x":1983.7,"y":1.489},{"s":"D8","x":1984.34,"y":1.46},{"s":"D8","x":1984.77,"y":1.404},{"s":"D8","x":1985.2,"y":1.46},{"s":"D8","x":1986.05,"y":1.46},{"s":"D8","x":1986.91,"y":1.431},{"s":"D8","x":1987.55,"y":1.376},{"s":"D8","x":1988.2,"y":1.404},{"s":"D8","x":1989.05,"y":1.46},{"s":"D8","x":1990.12,"y":1.376},{"s":"D8","x":1990.77,"y":1.324},{"s":"D8","x":1991.41,"y":1.376},{"s":"D8","x":1992.26,"y":1.431},{"s":"D8","x":1993.12,"y":1.489},{"s":"D8","x":1993.98,"y":1.518},{"s":"D8","x":1994.62,"y":1.489},{"s":"D8","x":1995.48,"y":1.431},{"s":"D8","x":1996.33,"y":1.35},{"s":"D8","x":1997.19,"y":1.248},{"s":"D8","x":1997.83,"y":1.177},{"s":"D8","x":1998.47,"y":1.088},{"s":"D8","x":1998.9,"y":1.026},{"s":"D8","x":1999.22,"y":0.967},{"s":"D8","x":1999.54,"y":0.93},{"s":"D8","x":1999.97,"y":0.987},{"s":"D8","x":2000.4,"y":1.088},{"s":"D8","x":2000.83,"y":1.177},{"s":"D8","x":2001.26,"y":1.273},{"s":"D8","x":2001.9,"y":1.431},{"s":"D8","x":2002.54,"y":1.489},{"s":"D8","x":2003.82,"y":1.548},{"s":"D8","x":2005.11,"y":1.61},{"s":"D8","x":2005.97,"y":1.674},{"s":"D8","x":2007.25,"y":1.741},{"s":"D8","x":2008.53,"y":1.811},{"s":"D8","x":2008.96,"y":1.741},{"s":"D8","x":2010.68,"y":1.883},{"s":"D8","x":2011.53,"y":1.958},{"s":"D8","x":2012.17,"y":1.92},{"s":"D8","x":2012.6,"y":1.811},{"s":"D8","x":2013.67,"y":1.846},{"s":"D8","x":2014.75,"y":1.864},{"s":"D8","x":2015.39,"y":1.92},{"s":"D8","x":2016.46,"y":1.846},{"s":"D8","x":2017.96,"y":1.811},{"s":"D8","x":2019.67,"y":1.776},{"s":"D8","x":2020.53,"y":1.674},{"s":"D8","x":2021.17,"y":1.811},{"s":"D8","x":2021.81,"y":1.707},{"s":"D8","x":2022.46,"y":1.61},{"s":"D8","x":2022.88,"y":1.658},{"s":"D8","x":2023.31,"y":1.548},{"s":"D8","x":2024.17,"y":1.489},{"s":"D8","x":2024.81,"y":1.431},{"s":"D8","x":2025.45,"y":1.35},{"s":"D8","x":2025.77,"y":1.324},{"s":"D8","x":2026.09,"y":1.404},{"s":"D8","x":2026.2,"y":1.376},
{"s":"D9","x":1963.6,"y":1},{"s":"D9","x":1964.22,"y":0.977},{"s":"D9","x":1964.86,"y":1.006},{"s":"D9","x":1965.5,"y":1.026},{"s":"D9","x":1965.93,"y":1.046},{"s":"D9","x":1966.36,"y":1.067},{"s":"D9","x":1966.79,"y":1.056},{"s":"D9","x":1967.43,"y":1.046},{"s":"D9","x":1968.07,"y":1.026},{"s":"D9","x":1968.71,"y":1.006},{"s":"D9","x":1969.36,"y":1.016},{"s":"D9","x":1970.0,"y":1.036},{"s":"D9","x":1970.64,"y":1.056},{"s":"D9","x":1971.28,"y":1.046},{"s":"D9","x":1971.93,"y":1.046},{"s":"D9","x":1972.57,"y":1.036},{"s":"D9","x":1973.21,"y":1.006},{"s":"D9","x":1973.85,"y":0.997},{"s":"D9","x":1974.28,"y":1.006},{"s":"D9","x":1975.14,"y":1.006},{"s":"D9","x":1975.99,"y":1.026},{"s":"D9","x":1976.85,"y":1.046},{"s":"D9","x":1977.49,"y":1.056},{"s":"D9","x":1978.13,"y":1.026},{"s":"D9","x":1978.78,"y":1.006},{"s":"D9","x":1979.42,"y":1.026},{"s":"D9","x":1980.06,"y":1.067},{"s":"D9","x":1980.7,"y":1.067},{"s":"D9","x":1981.35,"y":1.067},{"s":"D9","x":1981.99,"y":1.046},{"s":"D9","x":1982.63,"y":1.026},{"s":"D9","x":1983.27,"y":1.016},{"s":"D9","x":1983.91,"y":1.006},{"s":"D9","x":1984.34,"y":0.997},{"s":"D9","x":1984.99,"y":1.026},{"s":"D9","x":1985.63,"y":1.056},{"s":"D9","x":1986.27,"y":1.067},{"s":"D9","x":1986.91,"y":1.067},{"s":"D9","x":1987.55,"y":1.077},{"s":"D9","x":1988.2,"y":1.067},{"s":"D9","x":1989.05,"y":1.077},{"s":"D9","x":1989.69,"y":1.067},{"s":"D9","x":1990.34,"y":1.036},{"s":"D9","x":1990.77,"y":1.006},{"s":"D9","x":1991.19,"y":1.046},{"s":"D9","x":1991.84,"y":1.077},{"s":"D9","x":1992.69,"y":1.099},{"s":"D9","x":1993.55,"y":1.114},{"s":"D9","x":1994.4,"y":1.11},{"s":"D9","x":1995.26,"y":1.099},{"s":"D9","x":1996.12,"y":1.077},{"s":"D9","x":1996.97,"y":1.056},{"s":"D9","x":1997.83,"y":1.036},{"s":"D9","x":1998.47,"y":1.016},{"s":"D9","x":1998.9,"y":1.006},{"s":"D9","x":1999.54,"y":0.997},{"s":"D9","x":2000.08,"y":1.006},{"s":"D9","x":2000.4,"y":1.026},{"s":"D9","x":2000.83,"y":1.088},{"s":"D9","x":2001.26,"y":1.142},{"s":"D9","x":2001.68,"y":1.154},{"s":"D9","x":2002.11,"y":1.2},{"s":"D9","x":2002.54,"y":1.224},{"s":"D9","x":2003.18,"y":1.248},{"s":"D9","x":2003.82,"y":1.273},{"s":"D9","x":2004.68,"y":1.298},{"s":"D9","x":2005.32,"y":1.35},{"s":"D9","x":2005.97,"y":1.376},{"s":"D9","x":2006.61,"y":1.431},{"s":"D9","x":2007.25,"y":1.446},{"s":"D9","x":2007.89,"y":1.475},{"s":"D9","x":2008.53,"y":1.489},{"s":"D9","x":2008.96,"y":1.46},{"s":"D9","x":2009.61,"y":1.475},{"s":"D9","x":2010.25,"y":1.489},{"s":"D9","x":2010.89,"y":1.518},{"s":"D9","x":2011.53,"y":1.533},{"s":"D9","x":2011.96,"y":1.503},{"s":"D9","x":2012.6,"y":1.475},{"s":"D9","x":2013.25,"y":1.489},{"s":"D9","x":2013.89,"y":1.503},{"s":"D9","x":2014.53,"y":1.533},{"s":"D9","x":2015.17,"y":1.533},{"s":"D9","x":2015.82,"y":1.518},{"s":"D9","x":2016.46,"y":1.533},{"s":"D9","x":2017.1,"y":1.548},{"s":"D9","x":2017.75,"y":1.533},{"s":"D9","x":2018.39,"y":1.503},{"s":"D9","x":2019.03,"y":1.475},{"s":"D9","x":2019.67,"y":1.475},{"s":"D9","x":2020.21,"y":1.418},{"s":"D9","x":2020.53,"y":1.376},{"s":"D9","x":2020.96,"y":1.418},{"s":"D9","x":2021.6,"y":1.431},{"s":"D9","x":2022.24,"y":1.431},{"s":"D9","x":2022.67,"y":1.489},{"s":"D9","x":2022.99,"y":1.548},{"s":"D9","x":2023.31,"y":1.46},{"s":"D9","x":2023.74,"y":1.404},{"s":"D9","x":2024.38,"y":1.324},{"s":"D9","x":2024.81,"y":1.324},{"s":"D9","x":2025.24,"y":1.273},{"s":"D9","x":2025.67,"y":1.224},{"s":"D9","x":2025.99,"y":1.273},{"s":"D9","x":2026.2,"y":1.224},
{"s":"D10","x":1963.6,"y":1},{"s":"D10","x":1963.9,"y":1.026},{"s":"D10","x":1964.43,"y":1.036},{"s":"D10","x":1965.07,"y":1.026},{"s":"D10","x":1965.5,"y":1.006},{"s":"D10","x":1965.82,"y":1.026},{"s":"D10","x":1966.14,"y":0.967},{"s":"D10","x":1966.57,"y":0.949},{"s":"D10","x":1967.22,"y":0.93},{"s":"D10","x":1967.86,"y":0.912},{"s":"D10","x":1968.5,"y":0.895},{"s":"D10","x":1969.04,"y":0.86},{"s":"D10","x":1969.36,"y":0.886},{"s":"D10","x":1970.0,"y":0.895},{"s":"D10","x":1970.43,"y":0.912},{"s":"D10","x":1970.86,"y":0.912},{"s":"D10","x":1971.28,"y":0.895},{"s":"D10","x":1971.71,"y":0.912},{"s":"D10","x":1972.14,"y":0.903},{"s":"D10","x":1972.57,"y":0.93},{"s":"D10","x":1973.0,"y":0.967},{"s":"D10","x":1973.42,"y":1.016},{"s":"D10","x":1973.85,"y":0.987},{"s":"D10","x":1974.28,"y":0.977},{"s":"D10","x":1974.71,"y":0.967},{"s":"D10","x":1975.35,"y":0.949},{"s":"D10","x":1975.99,"y":0.949},{"s":"D10","x":1976.42,"y":0.93},{"s":"D10","x":1976.85,"y":0.93},{"s":"D10","x":1977.28,"y":0.895},{"s":"D10","x":1977.92,"y":0.86},{"s":"D10","x":1978.56,"y":0.827},{"s":"D10","x":1979.2,"y":0.811},{"s":"D10","x":1979.63,"y":0.795},{"s":"D10","x":1980.27,"y":0.78},{"s":"D10","x":1980.7,"y":0.765},{"s":"D10","x":1981.13,"y":0.736},{"s":"D10","x":1981.77,"y":0.736},{"s":"D10","x":1982.42,"y":0.728},{"s":"D10","x":1983.06,"y":0.721},{"s":"D10","x":1983.49,"y":0.7},{"s":"D10","x":1983.91,"y":0.714},{"s":"D10","x":1984.34,"y":0.736},{"s":"D10","x":1984.99,"y":0.743},{"s":"D10","x":1985.63,"y":0.75},{"s":"D10","x":1986.27,"y":0.765},{"s":"D10","x":1986.91,"y":0.787},{"s":"D10","x":1987.77,"y":0.811},{"s":"D10","x":1988.2,"y":0.78},{"s":"D10","x":1988.41,"y":0.772},{"s":"D10","x":1989.05,"y":0.795},{"s":"D10","x":1989.69,"y":0.811},{"s":"D10","x":1990.34,"y":0.844},{"s":"D10","x":1990.77,"y":0.869},{"s":"D10","x":1991.19,"y":0.844},{"s":"D10","x":1991.84,"y":0.836},{"s":"D10","x":1992.26,"y":0.819},{"s":"D10","x":1992.69,"y":0.827},{"s":"D10","x":1993.33,"y":0.803},{"s":"D10","x":1993.98,"y":0.787},{"s":"D10","x":1994.62,"y":0.795},{"s":"D10","x":1995.26,"y":0.811},{"s":"D10","x":1995.9,"y":0.844},{"s":"D10","x":1996.55,"y":0.869},{"s":"D10","x":1997.19,"y":0.895},{"s":"D10","x":1997.83,"y":0.912},{"s":"D10","x":1998.47,"y":0.949},{"s":"D10","x":1998.9,"y":0.997},{"s":"D10","x":1999.33,"y":1.006},{"s":"D10","x":1999.76,"y":0.977},{"s":"D10","x":2000.19,"y":0.997},{"s":"D10","x":2000.61,"y":0.987},{"s":"D10","x":2001.04,"y":0.949},{"s":"D10","x":2001.68,"y":0.912},{"s":"D10","x":2002.33,"y":0.895},{"s":"D10","x":2002.97,"y":0.877},{"s":"D10","x":2003.4,"y":0.86},{"s":"D10","x":2004.25,"y":0.836},{"s":"D10","x":2005.11,"y":0.811},{"s":"D10","x":2005.97,"y":0.787},{"s":"D10","x":2006.82,"y":0.803},{"s":"D10","x":2007.68,"y":0.811},{"s":"D10","x":2008.75,"y":0.803},{"s":"D10","x":2009.82,"y":0.78},{"s":"D10","x":2010.68,"y":0.765},{"s":"D10","x":2011.32,"y":0.758},{"s":"D10","x":2012.17,"y":0.772},{"s":"D10","x":2013.25,"y":0.772},{"s":"D10","x":2014.1,"y":0.78},{"s":"D10","x":2014.96,"y":0.795},{"s":"D10","x":2015.81,"y":0.803},{"s":"D10","x":2016.67,"y":0.803},{"s":"D10","x":2017.31,"y":0.811},{"s":"D10","x":2017.96,"y":0.811},{"s":"D10","x":2019.24,"y":0.836},{"s":"D10","x":2020.1,"y":0.86},{"s":"D10","x":2020.53,"y":0.869},{"s":"D10","x":2020.96,"y":0.844},{"s":"D10","x":2021.81,"y":0.869},{"s":"D10","x":2022.67,"y":0.877},{"s":"D10","x":2022.99,"y":0.86},{"s":"D10","x":2023.31,"y":0.895},{"s":"D10","x":2024.17,"y":0.912},{"s":"D10","x":2024.81,"y":0.939},{"s":"D10","x":2025.45,"y":0.949},{"s":"D10","x":2025.88,"y":0.967},{"s":"D10","x":2026.2,"y":0.958}
]},
"layer":[
{"mark":{"type":"rule","color":"#9a9a9a","strokeWidth":1.1},"encoding":{"y":{"datum":1,"type":"quantitative","scale":{"type":"log"}}}},
{"data":{"name":"pts"},
"mark":{"type":"line","strokeWidth":1.7,"opacity":0.95},
"encoding":{
"x":{"field":"x","type":"quantitative","scale":{"domain":[1960.5,2029.3],"nice":false,"zero":false},
"axis":{"title":null,"values":[1970,1980,1990,2000,2010,2020],"format":"d","labelFont":"DejaVu Sans","labelFontSize":14,"labelColor":"#000","labelPadding":6,"tickColor":"#000","tickSize":5,"tickWidth":1,"domainColor":"#000","domainWidth":1.2,"grid":true,"gridColor":"#d9d9d9","gridDash":[4,4],"gridWidth":0.8}},
"y":{"field":"y","type":"quantitative","scale":{"type":"log","domain":[0.595,4.68],"nice":false,"zero":false},
"axis":{"title":"Growth of $1 (log)","titleFont":"DejaVu Sans","titleFontSize":14,"titleFontWeight":"normal","titleColor":"#000","titlePadding":14,
"values":[0.6,0.7,0.8,0.9,1,2,3,4],
"labelExpr":"datum.value==0.6?'6 × 10⁻¹':datum.value==1?'10⁰':datum.value==2?'2 × 10⁰':datum.value==3?'3 × 10⁰':datum.value==4?'4 × 10⁰':''",
"labelFont":"DejaVu Sans","labelFontSize":14,"labelColor":"#000","labelPadding":4,"tickColor":"#000","tickWidth":1,
"tickSize":{"condition":{"test":"datum.value>0.65 && datum.value<0.95","value":2.5},"value":4.5},
"domainColor":"#000","domainWidth":1.2,"grid":false}},
"color":{"field":"s","type":"nominal",
"scale":{"domain":["D1","D2","D3","D4","D5","D6","D7","D8","D9","D10"],"range":["#3b4cc0","#5977e3","#7b9ff9","#9ebeff","#c0d4f5","#f2cbb7","#f7ac8e","#ee8468","#d65244","#b40426"]},
"legend":{"title":null,"orient":"none","legendX":7,"legendY":2.5,"columns":2,"columnPadding":14,"rowPadding":-2.1,"padding":2,"symbolType":"stroke","symbolSize":625,"symbolStrokeWidth":2,"labelFont":"DejaVu Sans","labelFontSize":12,"labelColor":"#000","labelOffset":11,"strokeColor":"#cccccc","fillColor":"rgba(255,255,255,0.8)","cornerRadius":4}}
}}
]
}
